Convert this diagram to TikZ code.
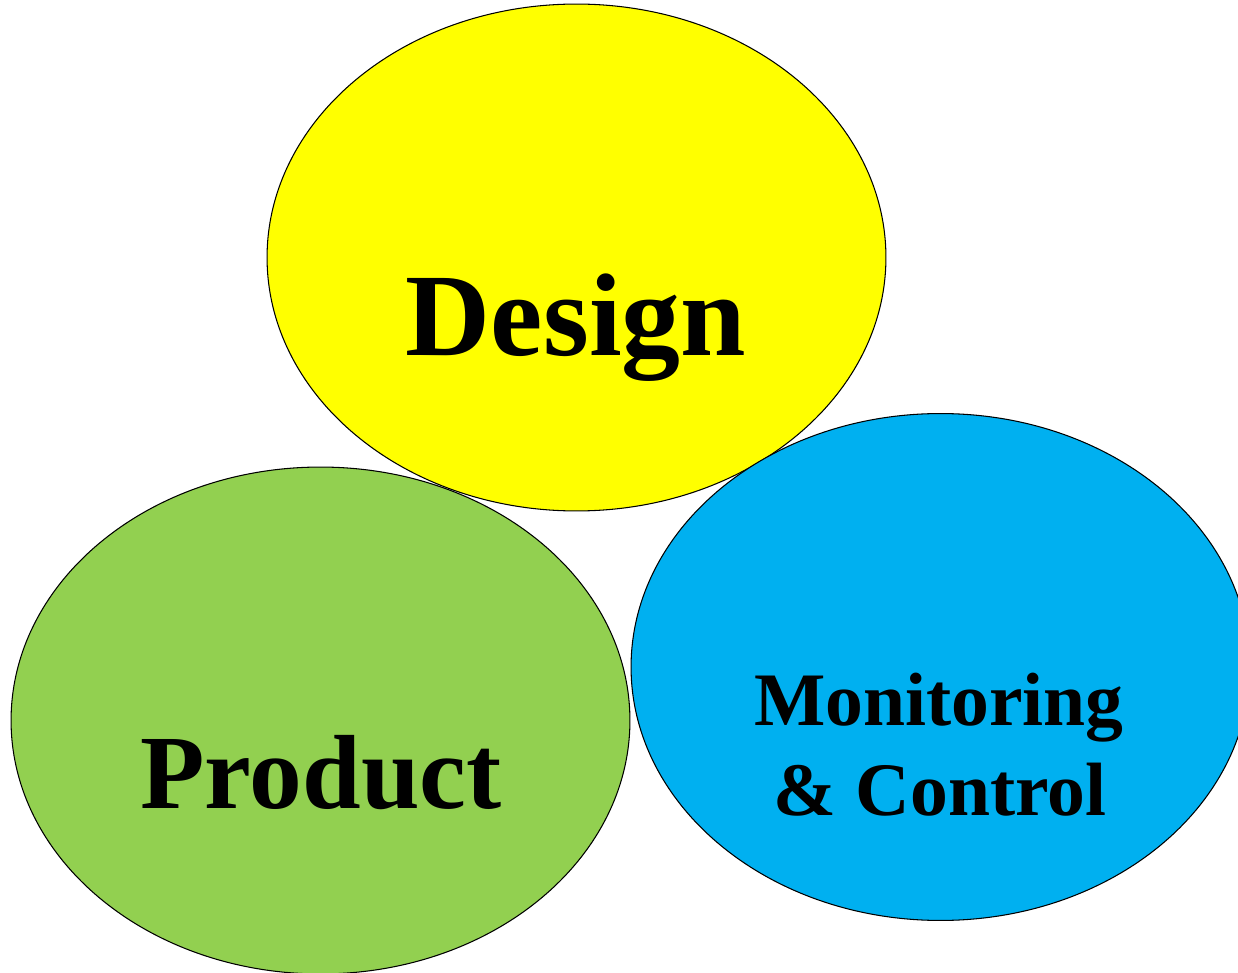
\documentclass[tikz,border=0pt]{standalone}
\usepackage{fontspec}
\setmainfont{Liberation Serif}
\usetikzlibrary{shapes.geometric}

\definecolor{dsgnyellow}{HTML}{FFFF00}
\definecolor{prodgreen}{HTML}{92D050}
\definecolor{monblue}{HTML}{00B0F0}

\begin{document}
\begin{tikzpicture}[x=0.02cm, y=-0.02cm,
  blob/.style={draw, ellipse, line width=0.6pt, inner sep=0pt, minimum width=12.38cm, minimum height=10.14cm},
  big/.style={anchor=base, inner sep=0pt, font=\bfseries\fontsize{67}{80}\selectfont},
  mid/.style={anchor=base, inner sep=0pt, font=\bfseries\fontsize{60}{72}\selectfont},
  small/.style={anchor=base, inner sep=0pt, font=\bfseries\fontsize{43}{51}\selectfont}]
  \useasboundingbox (0,0) rectangle (1238,973);
  \clip (0,0) rectangle (1238,973);
  % three overlapping areas
  \node[blob, fill=prodgreen] (product) at (320.5,720.5) {};
  \node[blob, fill=dsgnyellow] (design) at (576.5,257.5) {};
  \node[blob, fill=monblue] (monitor) at (940.5,667) {};
  % labels
  \node[big] (designtxt) at (576,356) {Design};
  \node[mid] (producttxt) at (321,808) {Product};
  \node[small] (montxt) at (939,725) {Monitoring};
  \node[small] (ctrltxt) at (940,815) {\& Control};
\end{tikzpicture}
\end{document}
